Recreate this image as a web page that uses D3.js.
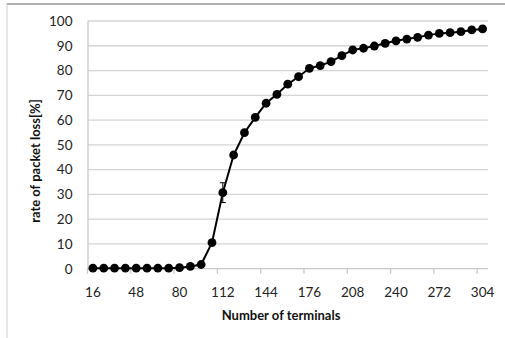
<!DOCTYPE html>
<html><head><meta charset="utf-8">
<script src="https://cdn.jsdelivr.net/npm/d3@7"></script>
<style>body{margin:0;background:#fff;}svg{display:block;}</style>
</head><body>
<script>
const terminals = [16,24,32,40,48,56,64,72,80,88,96,104,112,120,128,136,144,152,160,168,176,184,192,200,208,216,224,232,240,248,256,264,272,280,288,296,304];
const lossRate = [0.2,0.2,0.2,0.2,0.2,0.2,0.2,0.2,0.4,0.9,1.7,10.5,30.7,45.9,54.9,61.1,66.8,70.4,74.5,77.5,80.9,82.0,83.6,86.0,88.3,89.0,89.9,91.0,92.0,92.7,93.4,94.3,95.0,95.3,95.7,96.4,96.8];
const lossErr = [0,0,0,0,0,0,0,0,0,0,0,1.0,4.0,1.0,0.5,0.5,0.5,0.5,0.5,0.5,0.5,0.5,0.5,0.5,0.3,0.3,0.3,0.3,0.3,0.3,0.3,0.3,0.3,0.3,0.3,0.3,0.3];
const yTicks = [0,10,20,30,40,50,60,70,80,90,100];
const xLabels = [16,48,80,112,144,176,208,240,272,304];

const W = 505, H = 338;
const m = {left: 87.5, right: 488, top: 21, bottom: 268.7};
const svg = d3.select("body").append("svg").attr("width", W).attr("height", H);
const font = "Lato, 'Open Sans', sans-serif";

// outer border
svg.append("line").attr("x1",6.5).attr("x2",W).attr("y1",4).attr("y2",4).attr("stroke","#b0b0b0").attr("stroke-width",2);
svg.append("line").attr("x1",7).attr("x2",7).attr("y1",4).attr("y2",H).attr("stroke","#cfcfcf").attr("stroke-width",1);

const x = d3.scaleBand().domain(terminals).range([m.left, m.right]).paddingInner(0).paddingOuter(0);
const y = d3.scaleLinear().domain([0,100]).range([m.bottom, m.top]);

// gridlines
svg.append("g").selectAll("line").data(yTicks.filter(d=>d>0)).join("line")
  .attr("x1", m.left).attr("x2", m.right)
  .attr("y1", d=>y(d)).attr("y2", d=>y(d))
  .attr("stroke", "#d4d4d4").attr("stroke-width", 1.3);

// y axis
const yAxis = svg.append("g").attr("transform", `translate(${m.left},0)`)
  .call(d3.axisLeft(y).tickValues(yTicks).tickSize(0).tickPadding(15));
yAxis.select(".domain").attr("stroke","#c8c8c8").attr("stroke-width",1.3);
yAxis.selectAll("text").attr("font-family", font).attr("font-size", 13.5).attr("fill","#222");

// x axis
const xAxisG = svg.append("g").attr("transform", `translate(0,${m.bottom})`);
xAxisG.append("line").attr("x1", m.left).attr("x2", m.right).attr("stroke","#c8c8c8").attr("stroke-width",1.3);
xAxisG.selectAll("line.tick").data(xLabels).join("line").attr("class","tick")
  .attr("x1", d=>x(d)).attr("x2", d=>x(d)).attr("y1",0).attr("y2",5)
  .attr("stroke","#c8c8c8").attr("stroke-width",1.3);
xAxisG.selectAll("text").data(xLabels).join("text")
  .attr("x", d=>x(d)+x.bandwidth()/2).attr("y", 28)
  .attr("text-anchor","middle").attr("font-family", font).attr("font-size", 13.5).attr("fill","#222")
  .text(d=>d);

// axis titles
svg.append("text").attr("x", 281).attr("y", 320).attr("text-anchor","middle")
  .attr("font-family", font).attr("font-weight","bold").attr("font-size", 13).attr("fill","#111")
  .text("Number of terminals");
svg.append("text").attr("transform","translate(40,161) rotate(-90)").attr("text-anchor","middle")
  .attr("font-family", font).attr("font-weight","bold").attr("font-size", 13).attr("fill","#111")
  .text("rate of packet loss[%]");

const cx = d=>x(d)+x.bandwidth()/2;
const pts = terminals.map((t,i)=>({t, v: lossRate[i], e: lossErr[i]}));

// error bars
const eb = svg.append("g").attr("stroke","#000").attr("stroke-width",1);
pts.filter(d=>d.e>0).forEach(d=>{
  eb.append("line").attr("x1",cx(d.t)).attr("x2",cx(d.t)).attr("y1",y(d.v-d.e)).attr("y2",y(d.v+d.e));
  eb.append("line").attr("x1",cx(d.t)-3).attr("x2",cx(d.t)+3).attr("y1",y(d.v-d.e)).attr("y2",y(d.v-d.e));
  eb.append("line").attr("x1",cx(d.t)-3).attr("x2",cx(d.t)+3).attr("y1",y(d.v+d.e)).attr("y2",y(d.v+d.e));
});

// line
svg.append("path").datum(pts)
  .attr("d", d3.line().x(d=>cx(d.t)).y(d=>y(d.v)))
  .attr("fill","none").attr("stroke","#000").attr("stroke-width",2);

// markers
svg.append("g").selectAll("circle").data(pts).join("circle")
  .attr("cx", d=>cx(d.t)).attr("cy", d=>y(d.v)).attr("r", 4.4).attr("fill","#000");
</script>
</body></html>
